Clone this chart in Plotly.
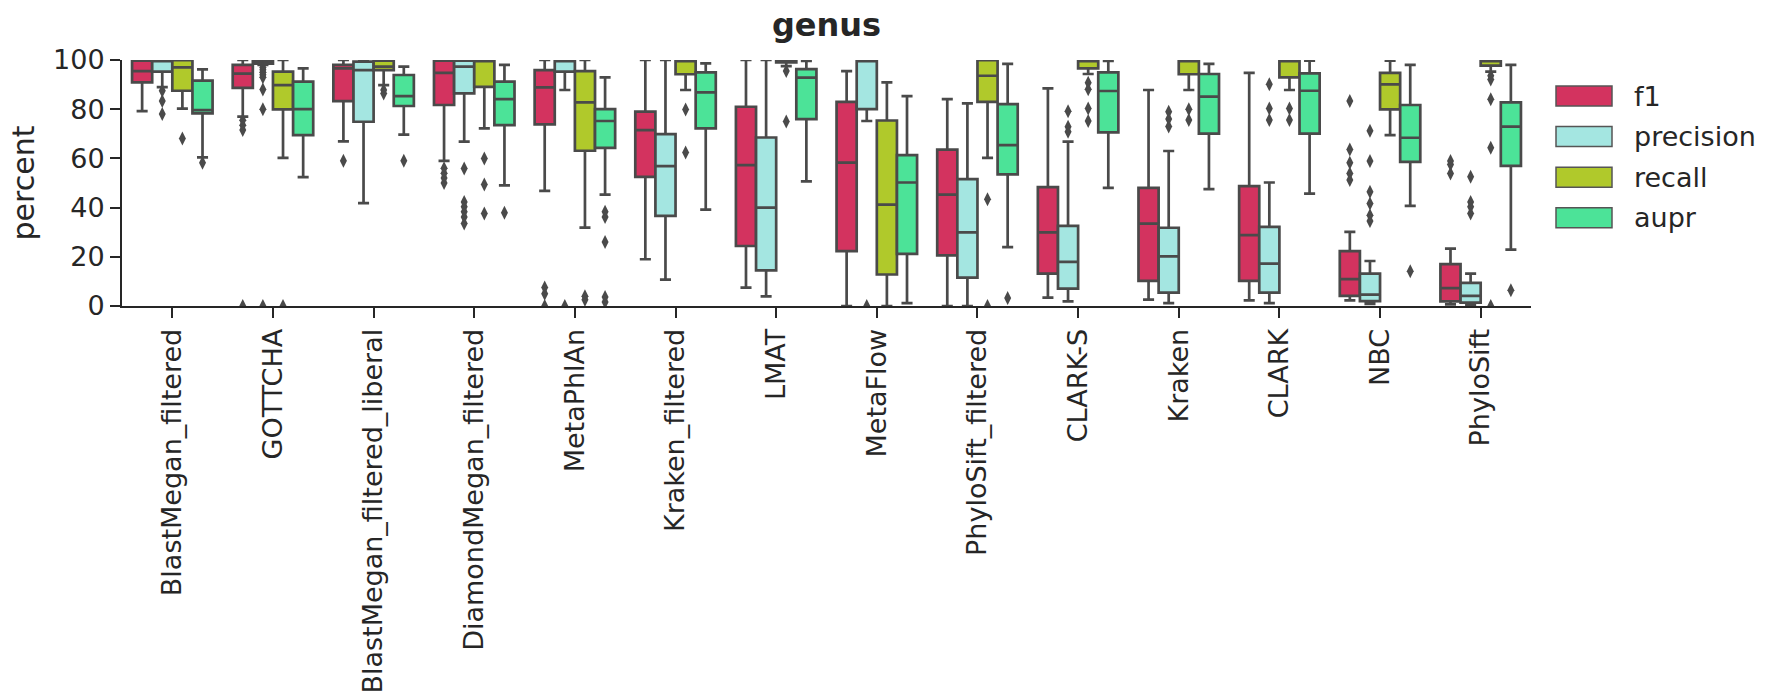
import numpy as np
import plotly.graph_objects as go

categories = ["BlastMegan_filtered", "GOTTCHA", "BlastMegan_filtered_liberal", "DiamondMegan_filtered",
              "MetaPhlAn", "Kraken_filtered", "LMAT", "MetaFlow", "PhyloSift_filtered", "CLARK-S",
              "Kraken", "CLARK", "NBC", "PhyloSift"]
hues = ["f1", "precision", "recall", "aupr"]

# f1
f1_q1 = [90.9, 88.7, 83.3, 81.7, 73.8, 52.5, 24.4, 22.3, 20.6, 13.2, 10.2, 10.2, 4.1, 1.9]
f1_med = [95.5, 94.5, 96.6, 94.8, 88.9, 71.5, 57.3, 58.3, 45.3, 29.9, 33.5, 28.8, 10.9, 7.3]
f1_q3 = [99.7, 98.0, 98.0, 99.7, 95.9, 79.0, 81.0, 83.0, 63.6, 48.3, 48.0, 48.7, 22.3, 17.0]
f1_lo = [79.2, 77.0, 66.9, 59.0, 46.8, 19.0, 7.5, 0.0, 0.0, 3.4, 2.6, 2.3, 2.3, 0.7]
f1_hi = [100, 100, 100, 100, 100, 100, 100, 95.5, 84.1, 88.5, 87.8, 94.8, 30.1, 23.3]
f1_out = [[], [75.5, 73.5, 71.5, 0], [59], [56, 54, 52, 50], [7.5, 5, 0], [], [], [], [], [], [], [],
          [83.3, 63.6, 58.2, 53.9, 51.2], [58.9, 57.5, 53.9]]

# precision
pr_q1 = [95.3, 98.5, 74.9, 86.4, 95.3, 36.6, 14.5, 80.0, 11.5, 7.1, 5.4, 5.4, 2.0, 1.4]
pr_med = [99.5, 99.5, 95.9, 97.3, 99.8, 56.9, 40.0, 99.8, 29.9, 17.9, 20.2, 17.2, 4.6, 4.1]
pr_q3 = [99.9, 99.9, 99.3, 99.7, 99.9, 69.9, 68.5, 99.9, 51.6, 32.6, 31.8, 32.2, 13.2, 9.4]
pr_lo = [89.0, 98.0, 41.8, 66.8, 87.8, 10.7, 3.9, 75.2, 0.0, 1.9, 1.2, 1.2, 0.9, 0.5]
pr_hi = [100, 100, 100, 100, 100, 100, 100, 100, 82.4, 66.8, 63.0, 50.2, 18.3, 13.2]
pr_out = [[87.5, 83.3, 78], [97, 96, 95, 94, 93, 88, 80, 0], [], [55.9, 42.3, 40.3, 38.3, 36.2, 33.5], [0],
          [], [], [0], [], [79.2, 72.9, 70.8], [79, 76, 73], [90.1, 80.3, 75.6],
          [71.2, 58.9, 46.4, 41.7, 36.9, 34.6], [52.5, 42.3, 40.3, 37.6]]

# recall
re_q1 = [87.5, 79.9, 95.9, 89.1, 63.1, 94.2, 99.0, 12.8, 83.0, 96.6, 94.2, 92.9, 79.9, 97.7]
re_med = [97.0, 89.8, 97.3, 99.8, 82.8, 99.8, 99.8, 41.2, 93.6, 99.8, 99.8, 99.8, 90.1, 99.8]
re_q3 = [99.9, 95.3, 99.7, 99.9, 95.5, 99.9, 100, 75.4, 99.9, 99.9, 99.9, 99.9, 94.8, 99.9]
re_lo = [80.2, 60.2, 89.8, 72.2, 31.9, 87.8, 97.5, 0.0, 60.2, 94.3, 87.8, 87.8, 69.5, 95.3]
re_hi = [100, 100, 100, 100, 100, 100, 100, 90.9, 100, 100, 100, 100, 99.7, 100]
re_out = [[68.1], [0], [87.8, 86.4], [60, 49.4, 37.6], [4, 2.5], [79.9, 62.4], [95.5, 75], [], [43.4, 0],
          [90.8, 88.1, 80.3, 75.2], [80, 75.6], [80.3, 75.6], [], [93.6, 92.1, 84, 64.3, 0]]

# aupr
au_q1 = [78.3, 69.5, 81.3, 73.5, 64.3, 72.2, 76.0, 21.2, 53.5, 70.6, 70.1, 70.1, 58.6, 57.0]
au_med = [79.6, 80.0, 85.3, 84.1, 75.2, 86.8, 92.8, 50.2, 65.4, 87.4, 85.1, 87.5, 68.4, 72.9]
au_q3 = [91.6, 91.2, 93.9, 91.2, 80.0, 95.0, 96.3, 61.3, 82.1, 95.0, 94.3, 94.6, 81.7, 82.8]
au_lo = [60.4, 52.4, 69.7, 49.0, 45.3, 39.2, 50.7, 1.2, 23.9, 48.0, 47.5, 45.7, 40.7, 22.9]
au_hi = [96.2, 96.6, 97.3, 98.0, 92.9, 98.6, 99.6, 85.3, 98.4, 99.6, 98.4, 99.7, 98.0, 98.0]
au_out = [[58.2], [], [59], [37.9], [38.3, 36.2, 26, 3.7, 1.6], [], [], [], [3.3], [], [], [], [14.1], [6.4]]

stats = {
    "f1": (f1_q1, f1_med, f1_q3, f1_lo, f1_hi, f1_out),
    "precision": (pr_q1, pr_med, pr_q3, pr_lo, pr_hi, pr_out),
    "recall": (re_q1, re_med, re_q3, re_lo, re_hi, re_out),
    "aupr": (au_q1, au_med, au_q3, au_lo, au_hi, au_out),
}
colors = {"f1": "#d3335f", "precision": "#a4e6e1", "recall": "#b0c92b", "aupr": "#4ce398"}

W, H = 1777, 700
ML, MR, MT, MB = 122, 246, 60, 394
PW, PH = W - ML - MR, H - MT - MB

LINE = "#4a4a4a"
TXT = "#262626"
FONT = "DejaVu Sans"
n_h = len(hues)
group_w = 0.8
bw = group_w / n_h
pos = np.arange(len(categories), dtype=float)

fig = go.Figure()
for k, h in enumerate(hues):
    q1, med, q3, lo, hi, out = stats[h]
    off = -group_w / 2 + bw * (k + 0.5)
    fig.add_trace(go.Box(
        x=pos + off, q1=q1, median=med, q3=q3, lowerfence=lo, upperfence=hi,
        width=bw, name=h, fillcolor=colors[h], line=dict(color=LINE, width=2.7),
        whiskerwidth=0.55, boxpoints=False, showlegend=False,
    ))
for k, h in enumerate(hues):
    out = stats[h][5]
    off = -group_w / 2 + bw * (k + 0.5)
    xs, ys = [], []
    for i, vals in enumerate(out):
        for v in vals:
            xs.append(pos[i] + off)
            ys.append(v)
    fig.add_trace(go.Scatter(
        x=xs, y=ys, mode="markers", showlegend=False, name=h + " outliers",
        marker=dict(symbol="diamond-tall", size=10, color=LINE, line=dict(width=0)),
        cliponaxis=True, hoverinfo="skip",
    ))

# legend (patch + label per hue)
def px_x(p):
    return (p - ML) / PW

def px_y(p):
    return 1 - (p - MT) / PH

shapes, annotations = [], []
for k, h in enumerate(hues):
    cy = 96 + 40.6 * k
    shapes.append(dict(type="rect", xref="paper", yref="paper",
                       x0=px_x(1556), x1=px_x(1612), y0=px_y(cy - 10), y1=px_y(cy + 10),
                       fillcolor=colors[h], line=dict(color="#555555", width=1.5)))
    annotations.append(dict(xref="paper", yref="paper", x=px_x(1632), y=px_y(cy), text=h,
                            showarrow=False, xanchor="left", yanchor="middle",
                            font=dict(family=FONT, size=27, color=TXT)))

fig.update_layout(
    width=W, height=H,
    margin=dict(l=ML, r=MR, t=MT, b=MB),
    paper_bgcolor="white", plot_bgcolor="white",
    font=dict(family=FONT, size=27, color=TXT),
    title=dict(text="genus", x=0.5, xref="paper", y=1 - 25 / H, yanchor="middle",
               font=dict(family=FONT, size=32, color=TXT, weight="bold")),
    boxmode="overlay",
    showlegend=False,
    shapes=shapes,
    annotations=annotations,
    xaxis=dict(range=[-0.5, len(categories) - 0.5], tickmode="array", tickvals=pos, ticktext=categories,
               tickangle=-90, showline=True, linecolor=TXT, linewidth=2, ticks="outside", ticklen=10,
               tickwidth=2, tickcolor=TXT, showgrid=False, zeroline=False, automargin=False,
               tickfont=dict(size=27, color=TXT)),
    yaxis=dict(range=[0, 100], tickvals=[0, 20, 40, 60, 80, 100], showline=True, linecolor=TXT,
               linewidth=2, ticks="outside", ticklen=10, tickwidth=2, tickcolor=TXT, showgrid=False,
               zeroline=False, automargin=False, tickfont=dict(size=27, color=TXT),
               title=dict(text="percent", font=dict(size=30, color=TXT), standoff=10)),
)
fig.write_html("out.html")
